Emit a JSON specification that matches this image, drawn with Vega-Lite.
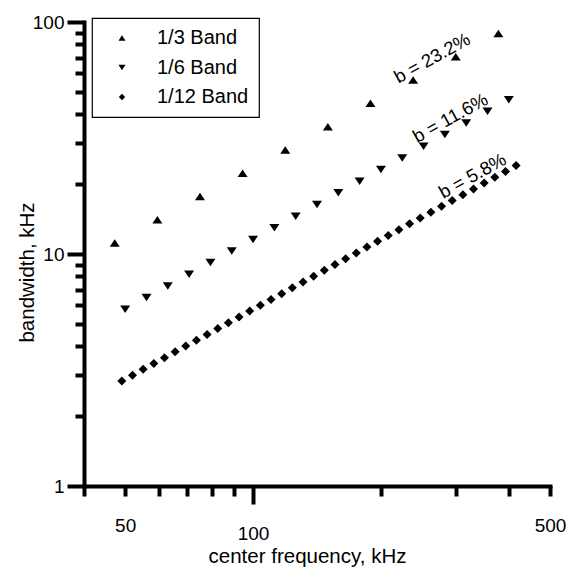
{
  "$schema": "https://vega.github.io/schema/vega-lite/v6.json",
  "width": 466,
  "height": 464,
  "autosize": "none",
  "padding": {"left": 84, "top": 22, "right": 18, "bottom": 82},
  "background": "white",
  "config": {
    "view": {"stroke": null},
    "font": "Liberation Sans",
    "axis": {
      "grid": false,
      "domainColor": "black",
      "domainWidth": 4,
      "domainCap": "square",
      "tickColor": "black",
      "tickWidth": 4,
      "labelFont": "Liberation Sans",
      "labelFontSize": 19,
      "labelColor": "black",
      "labelOverlap": false,
      "labelFlush": false,
      "labelBound": false,
      "titleFont": "Liberation Sans",
      "titleFontSize": 20.5,
      "titleFontWeight": "normal",
      "titleColor": "black"
    },
    "legend": {
      "strokeWidth": 1.2,
      "labelFont": "Liberation Sans",
      "labelFontSize": 20,
      "labelColor": "black",
      "symbolFillColor": "black",
      "symbolStrokeColor": "black",
      "symbolStrokeWidth": 0,
      "symbolOpacity": 1
    }
  },
  "layer": [
    {
      "data": {
        "values": [
          {"band": "1/3 Band", "f": 47.25, "bw": 11.15},
          {"band": "1/3 Band", "f": 59.53, "bw": 14.05},
          {"band": "1/3 Band", "f": 75.0, "bw": 17.70},
          {"band": "1/3 Band", "f": 94.49, "bw": 22.30},
          {"band": "1/3 Band", "f": 119.06, "bw": 28.10},
          {"band": "1/3 Band", "f": 150.0, "bw": 35.40},
          {"band": "1/3 Band", "f": 188.98, "bw": 44.60},
          {"band": "1/3 Band", "f": 238.11, "bw": 56.19},
          {"band": "1/3 Band", "f": 300.0, "bw": 70.80},
          {"band": "1/3 Band", "f": 377.98, "bw": 89.20},
          {"band": "1/6 Band", "f": 50.0, "bw": 5.78},
          {"band": "1/6 Band", "f": 56.12, "bw": 6.49},
          {"band": "1/6 Band", "f": 63.0, "bw": 7.28},
          {"band": "1/6 Band", "f": 70.71, "bw": 8.17},
          {"band": "1/6 Band", "f": 79.37, "bw": 9.18},
          {"band": "1/6 Band", "f": 89.09, "bw": 10.30},
          {"band": "1/6 Band", "f": 100.0, "bw": 11.56},
          {"band": "1/6 Band", "f": 112.25, "bw": 12.98},
          {"band": "1/6 Band", "f": 125.99, "bw": 14.56},
          {"band": "1/6 Band", "f": 141.42, "bw": 16.35},
          {"band": "1/6 Band", "f": 158.74, "bw": 18.35},
          {"band": "1/6 Band", "f": 178.18, "bw": 20.60},
          {"band": "1/6 Band", "f": 200.0, "bw": 23.12},
          {"band": "1/6 Band", "f": 224.49, "bw": 25.95},
          {"band": "1/6 Band", "f": 251.98, "bw": 29.13},
          {"band": "1/6 Band", "f": 282.84, "bw": 32.70},
          {"band": "1/6 Band", "f": 317.48, "bw": 36.70},
          {"band": "1/6 Band", "f": 356.36, "bw": 41.20},
          {"band": "1/6 Band", "f": 400.0, "bw": 46.24},
          {"band": "1/12 Band", "f": 49.10, "bw": 2.837},
          {"band": "1/12 Band", "f": 52.02, "bw": 3.005},
          {"band": "1/12 Band", "f": 55.11, "bw": 3.184},
          {"band": "1/12 Band", "f": 58.39, "bw": 3.373},
          {"band": "1/12 Band", "f": 61.86, "bw": 3.574},
          {"band": "1/12 Band", "f": 65.54, "bw": 3.786},
          {"band": "1/12 Band", "f": 69.44, "bw": 4.011},
          {"band": "1/12 Band", "f": 73.57, "bw": 4.250},
          {"band": "1/12 Band", "f": 77.94, "bw": 4.503},
          {"band": "1/12 Band", "f": 82.58, "bw": 4.771},
          {"band": "1/12 Band", "f": 87.49, "bw": 5.054},
          {"band": "1/12 Band", "f": 92.69, "bw": 5.355},
          {"band": "1/12 Band", "f": 98.20, "bw": 5.673},
          {"band": "1/12 Band", "f": 104.04, "bw": 6.010},
          {"band": "1/12 Band", "f": 110.23, "bw": 6.368},
          {"band": "1/12 Band", "f": 116.78, "bw": 6.746},
          {"band": "1/12 Band", "f": 123.72, "bw": 7.147},
          {"band": "1/12 Band", "f": 131.08, "bw": 7.573},
          {"band": "1/12 Band", "f": 138.88, "bw": 8.023},
          {"band": "1/12 Band", "f": 147.14, "bw": 8.500},
          {"band": "1/12 Band", "f": 155.89, "bw": 9.006},
          {"band": "1/12 Band", "f": 165.16, "bw": 9.541},
          {"band": "1/12 Band", "f": 174.98, "bw": 10.109},
          {"band": "1/12 Band", "f": 185.38, "bw": 10.709},
          {"band": "1/12 Band", "f": 196.40, "bw": 11.346},
          {"band": "1/12 Band", "f": 208.08, "bw": 12.021},
          {"band": "1/12 Band", "f": 220.45, "bw": 12.735},
          {"band": "1/12 Band", "f": 233.56, "bw": 13.493},
          {"band": "1/12 Band", "f": 247.45, "bw": 14.295},
          {"band": "1/12 Band", "f": 262.17, "bw": 15.146},
          {"band": "1/12 Band", "f": 277.76, "bw": 16.046},
          {"band": "1/12 Band", "f": 294.27, "bw": 17.000},
          {"band": "1/12 Band", "f": 311.77, "bw": 18.011},
          {"band": "1/12 Band", "f": 330.31, "bw": 19.082},
          {"band": "1/12 Band", "f": 349.95, "bw": 20.217},
          {"band": "1/12 Band", "f": 370.76, "bw": 21.419},
          {"band": "1/12 Band", "f": 392.81, "bw": 22.693},
          {"band": "1/12 Band", "f": 416.17, "bw": 24.042}
        ]
      },
      "mark": {"type": "point", "filled": true, "opacity": 1, "size": 100, "color": "black", "strokeWidth": 0},
      "encoding": {
        "x": {
          "field": "f",
          "type": "quantitative",
          "scale": {"type": "log", "domain": [40, 500], "nice": false},
          "axis": {
            "values": [40, 50, 60, 70, 80, 90, 100, 200, 300, 400, 500],
            "labelExpr": "(datum.value == 50 || datum.value == 100 || datum.value == 500) ? format(datum.value, 'd') : ''",
            "tickSize": {"condition": {"test": "datum.value == 100", "value": 18}, "value": 10},
            "labelPadding": 20,
            "labelBaseline": "top",
            "title": "center frequency, kHz",
            "titleX": 223,
            "titleY": 76,
            "titleAlign": "center",
            "titleBaseline": "alphabetic"
          }
        },
        "y": {
          "field": "bw",
          "type": "quantitative",
          "scale": {"type": "log", "domain": [1, 100], "nice": false},
          "axis": {
            "values": [1, 2, 3, 4, 5, 6, 7, 8, 9, 10, 20, 30, 40, 50, 60, 70, 80, 90, 100],
            "labelExpr": "(datum.value == 1 || datum.value == 10 || datum.value == 100) ? format(datum.value, 'd') : ''",
            "tickSize": {"condition": {"test": "datum.value == 1 || datum.value == 10 || datum.value == 100", "value": 17}, "value": 9},
            "labelPadding": 3,
            "title": "bandwidth, kHz",
            "titleX": -51,
            "titleY": 250,
            "titleAngle": -90,
            "titleAlign": "center",
            "titleBaseline": "alphabetic"
          }
        },
        "shape": {
          "field": "band",
          "type": "nominal",
          "scale": {
            "domain": ["1/3 Band", "1/6 Band", "1/12 Band"],
            "range": ["M-1,0.75L0,-0.75L1,0.75Z", "M-1,-0.75L0,0.75L1,-0.75Z", "M-0.9,0L0,-0.9L0.9,0L0,0.9Z"]
          },
          "legend": {
            "title": null,
            "orient": "none",
            "legendX": 8,
            "legendY": -4,
            "strokeColor": "black",
            "padding": 10,
            "symbolSize": 50,
            "symbolOffset": 10,
            "labelOffset": 25,
            "rowPadding": 9.5
          }
        }
      }
    },
    {
      "data": {
        "values": [
          {"label": "b = 23.2%", "f": 264, "bw": 69.9},
          {"label": "b = 11.6%", "f": 291.6, "bw": 38.6},
          {"label": "b = 5.8%", "f": 328.7, "bw": 21.7}
        ]
      },
      "mark": {"type": "text", "angle": 331, "fontSize": 18.5, "font": "Liberation Sans", "align": "center", "baseline": "middle", "color": "black"},
      "encoding": {
        "x": {"field": "f", "type": "quantitative"},
        "y": {"field": "bw", "type": "quantitative"},
        "text": {"field": "label", "type": "nominal"}
      }
    }
  ]
}
